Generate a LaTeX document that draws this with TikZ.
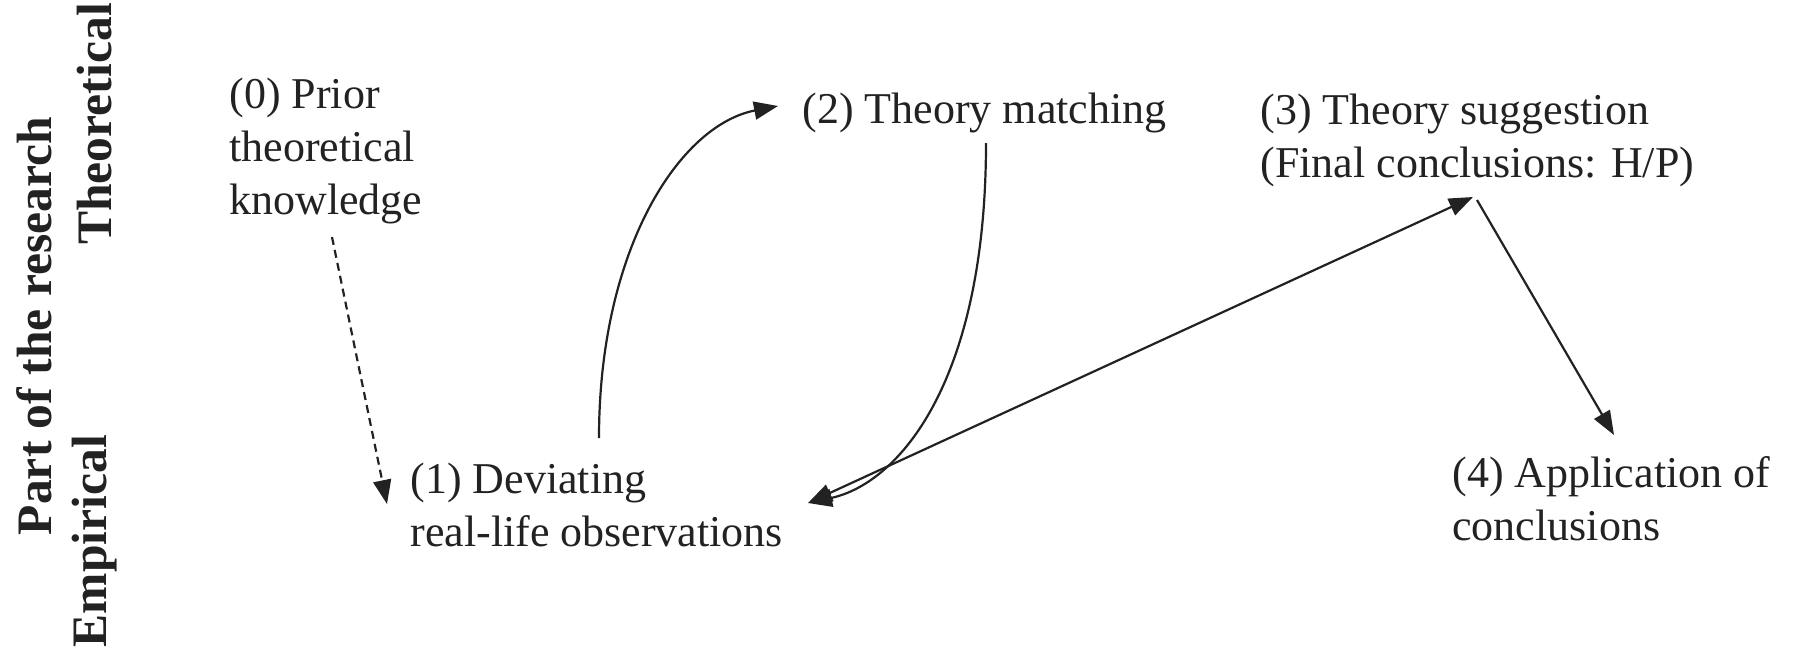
\documentclass[tikz,border=0pt]{standalone}
\usepackage{fontspec}
\setmainfont{Liberation Serif}
\usetikzlibrary{arrows.meta}
\definecolor{ink}{HTML}{222222}
\begin{document}
\begin{tikzpicture}[x=0.5pt,y=-0.5pt,
  lbl/.style={anchor=base west, inner sep=0pt, align=left, text=ink,
    font=\fontsize{22}{26.5}\selectfont},
  side/.style={inner sep=0pt, rotate=90, text=ink,
    font=\bfseries\fontsize{24.8}{29}\selectfont},
  tipA/.tip={Triangle[length=12pt,width=9pt]},
  conn/.style={line width=1.1pt, draw=ink, -tipA},
  dconn/.style={conn, dash pattern=on 4pt off 2.6pt},
]
\useasboundingbox (0,0) rectangle (1795,649);

% side labels
\node[side] (part) at (34,326) {Part of the research};
\node[side] (theo) at (95,124) {Theoretical};
\node[side] (emp)  at (95,541) {Empirical};

% nodes (anchored at the baseline of their last line)
\node[lbl] (n0) at (229,214) {(0) Prior\\theoretical\\knowledge};
\node[lbl] (n1) at (410,546) {(1) Deviating\\real-life observations};
\node[lbl] (n2) at (802,123) {(2) Theory matching};
\node[lbl] (n3) at (1260,177) {(3) Theory suggestion\\(Final conclusions: H/P)};
\node[lbl] (n4) at (1452,540) {(4) Application of\\conclusions};

% connector ends
\coordinate (c0out) at ([shift={(103,23)}]n0.base west);    % (332,237)
\coordinate (c1in)  at ([shift={(-23,-42)}]n1.base west);   % (387,504)
\coordinate (c1up)  at ([shift={(189,-108)}]n1.base west);  % (599,438)
\coordinate (c1r)   at ([shift={(398,-43)}]n1.base west);   % (808,503)
\coordinate (c2in)  at ([shift={(-24,-17)}]n2.base west);   % (778,106)
\coordinate (c2out) at ([shift={(184,20)}]n2.base west);    % (986,143)
\coordinate (c3in)  at ([shift={(213,20)}]n3.base west);    % (1473,197)
\coordinate (c3out) at ([shift={(217,23)}]n3.base west);    % (1477,200)
\coordinate (c4in)  at ([shift={(162,-105)}]n4.base west);  % (1614,435)

% connectors
\draw[dconn] (c0out) -- (c1in);
\draw[conn] (c1up) .. controls ([shift={(0,-190)}]c1up) and ([shift={(-98,19)}]c2in) .. (c2in);
\draw[conn] (c2out) .. controls ([shift={(0,237)}]c2out) and ([shift={(92,-20)}]c1r) .. (c1r);
\draw[conn, tipA-tipA] (c1r) -- (c3in);
\draw[conn] (c3out) -- (c4in);
\end{tikzpicture}
\end{document}
